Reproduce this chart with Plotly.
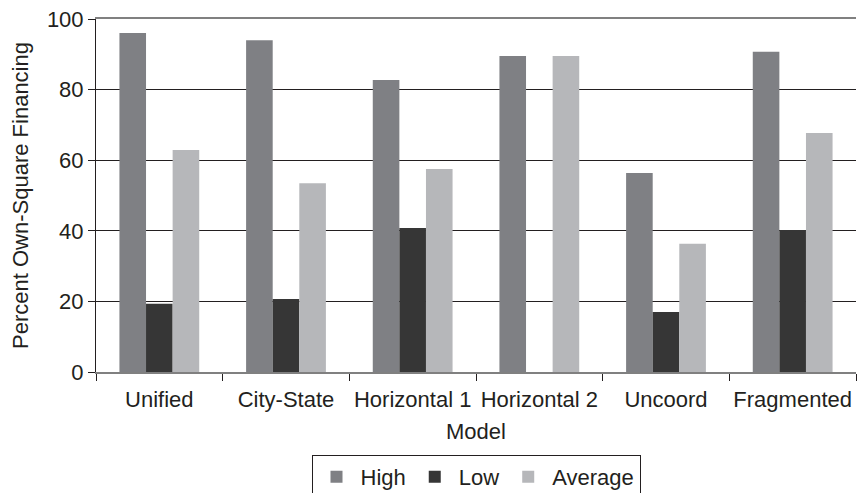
import plotly.graph_objects as go

categories = ["Unified", "City-State", "Horizontal 1", "Horizontal 2", "Uncoord", "Fragmented"]
high = [96.0, 94.0, 82.7, 89.5, 56.4, 90.7]
low = [19.3, 20.7, 40.8, 0.0, 17.0, 40.2]
average = [62.9, 53.5, 57.5, 89.5, 36.3, 67.7]
y_ticks = [0, 20, 40, 60, 80, 100]

FONT = "Liberation Sans, Arial, sans-serif"
TXT = "#231f20"
FS = 22

fig = go.Figure()
fig.add_trace(go.Bar(name="High", x=categories, y=high, marker=dict(color="#7f8084", line=dict(width=0))))
fig.add_trace(go.Bar(name="Low", x=categories, y=low, marker=dict(color="#363636", line=dict(width=0))))
fig.add_trace(go.Bar(name="Average", x=categories, y=average, marker=dict(color="#b6b7ba", line=dict(width=0))))

fig.update_layout(
    width=857, height=485,
    margin=dict(l=88, r=9, t=11, b=121, autoexpand=False),
    paper_bgcolor="white", plot_bgcolor="white",
    barmode="group", bargap=0.37, bargroupgap=0,
    font=dict(family=FONT, size=FS, color=TXT),
    showlegend=True,
    legend=dict(orientation="h", x=0.5, xanchor="center", y=-0.235, yanchor="top",
                bordercolor="#231f20", borderwidth=1, font=dict(size=FS, color=TXT),
                itemwidth=38, traceorder="normal"),
    xaxis=dict(
        title=dict(text="Model", font=dict(size=FS, color=TXT), standoff=12),
        showline=True, linecolor="#808080", linewidth=2, mirror=True,
        ticks="outside", tickson="boundaries", ticklen=7, tickcolor="#231f20",
        tickangle=0, ticklabelstandoff=7, ticklabeloverflow="allow",
        tickfont=dict(size=FS, color=TXT), showgrid=False, automargin=False,
    ),
    yaxis=dict(
        title=dict(text="Percent Own-Square Financing", font=dict(size=FS, color=TXT), standoff=28),
        range=[0, 100], tickvals=y_ticks,
        showline=True, linecolor="#231f20", linewidth=1,
        ticks="outside", ticklen=7, tickcolor="#231f20", ticklabeloverflow="allow",
        showgrid=True, gridcolor="#231f20", gridwidth=1, zeroline=False,
        tickfont=dict(size=FS, color=TXT), automargin=False,
    ),
)

fig.write_html("out.html")
